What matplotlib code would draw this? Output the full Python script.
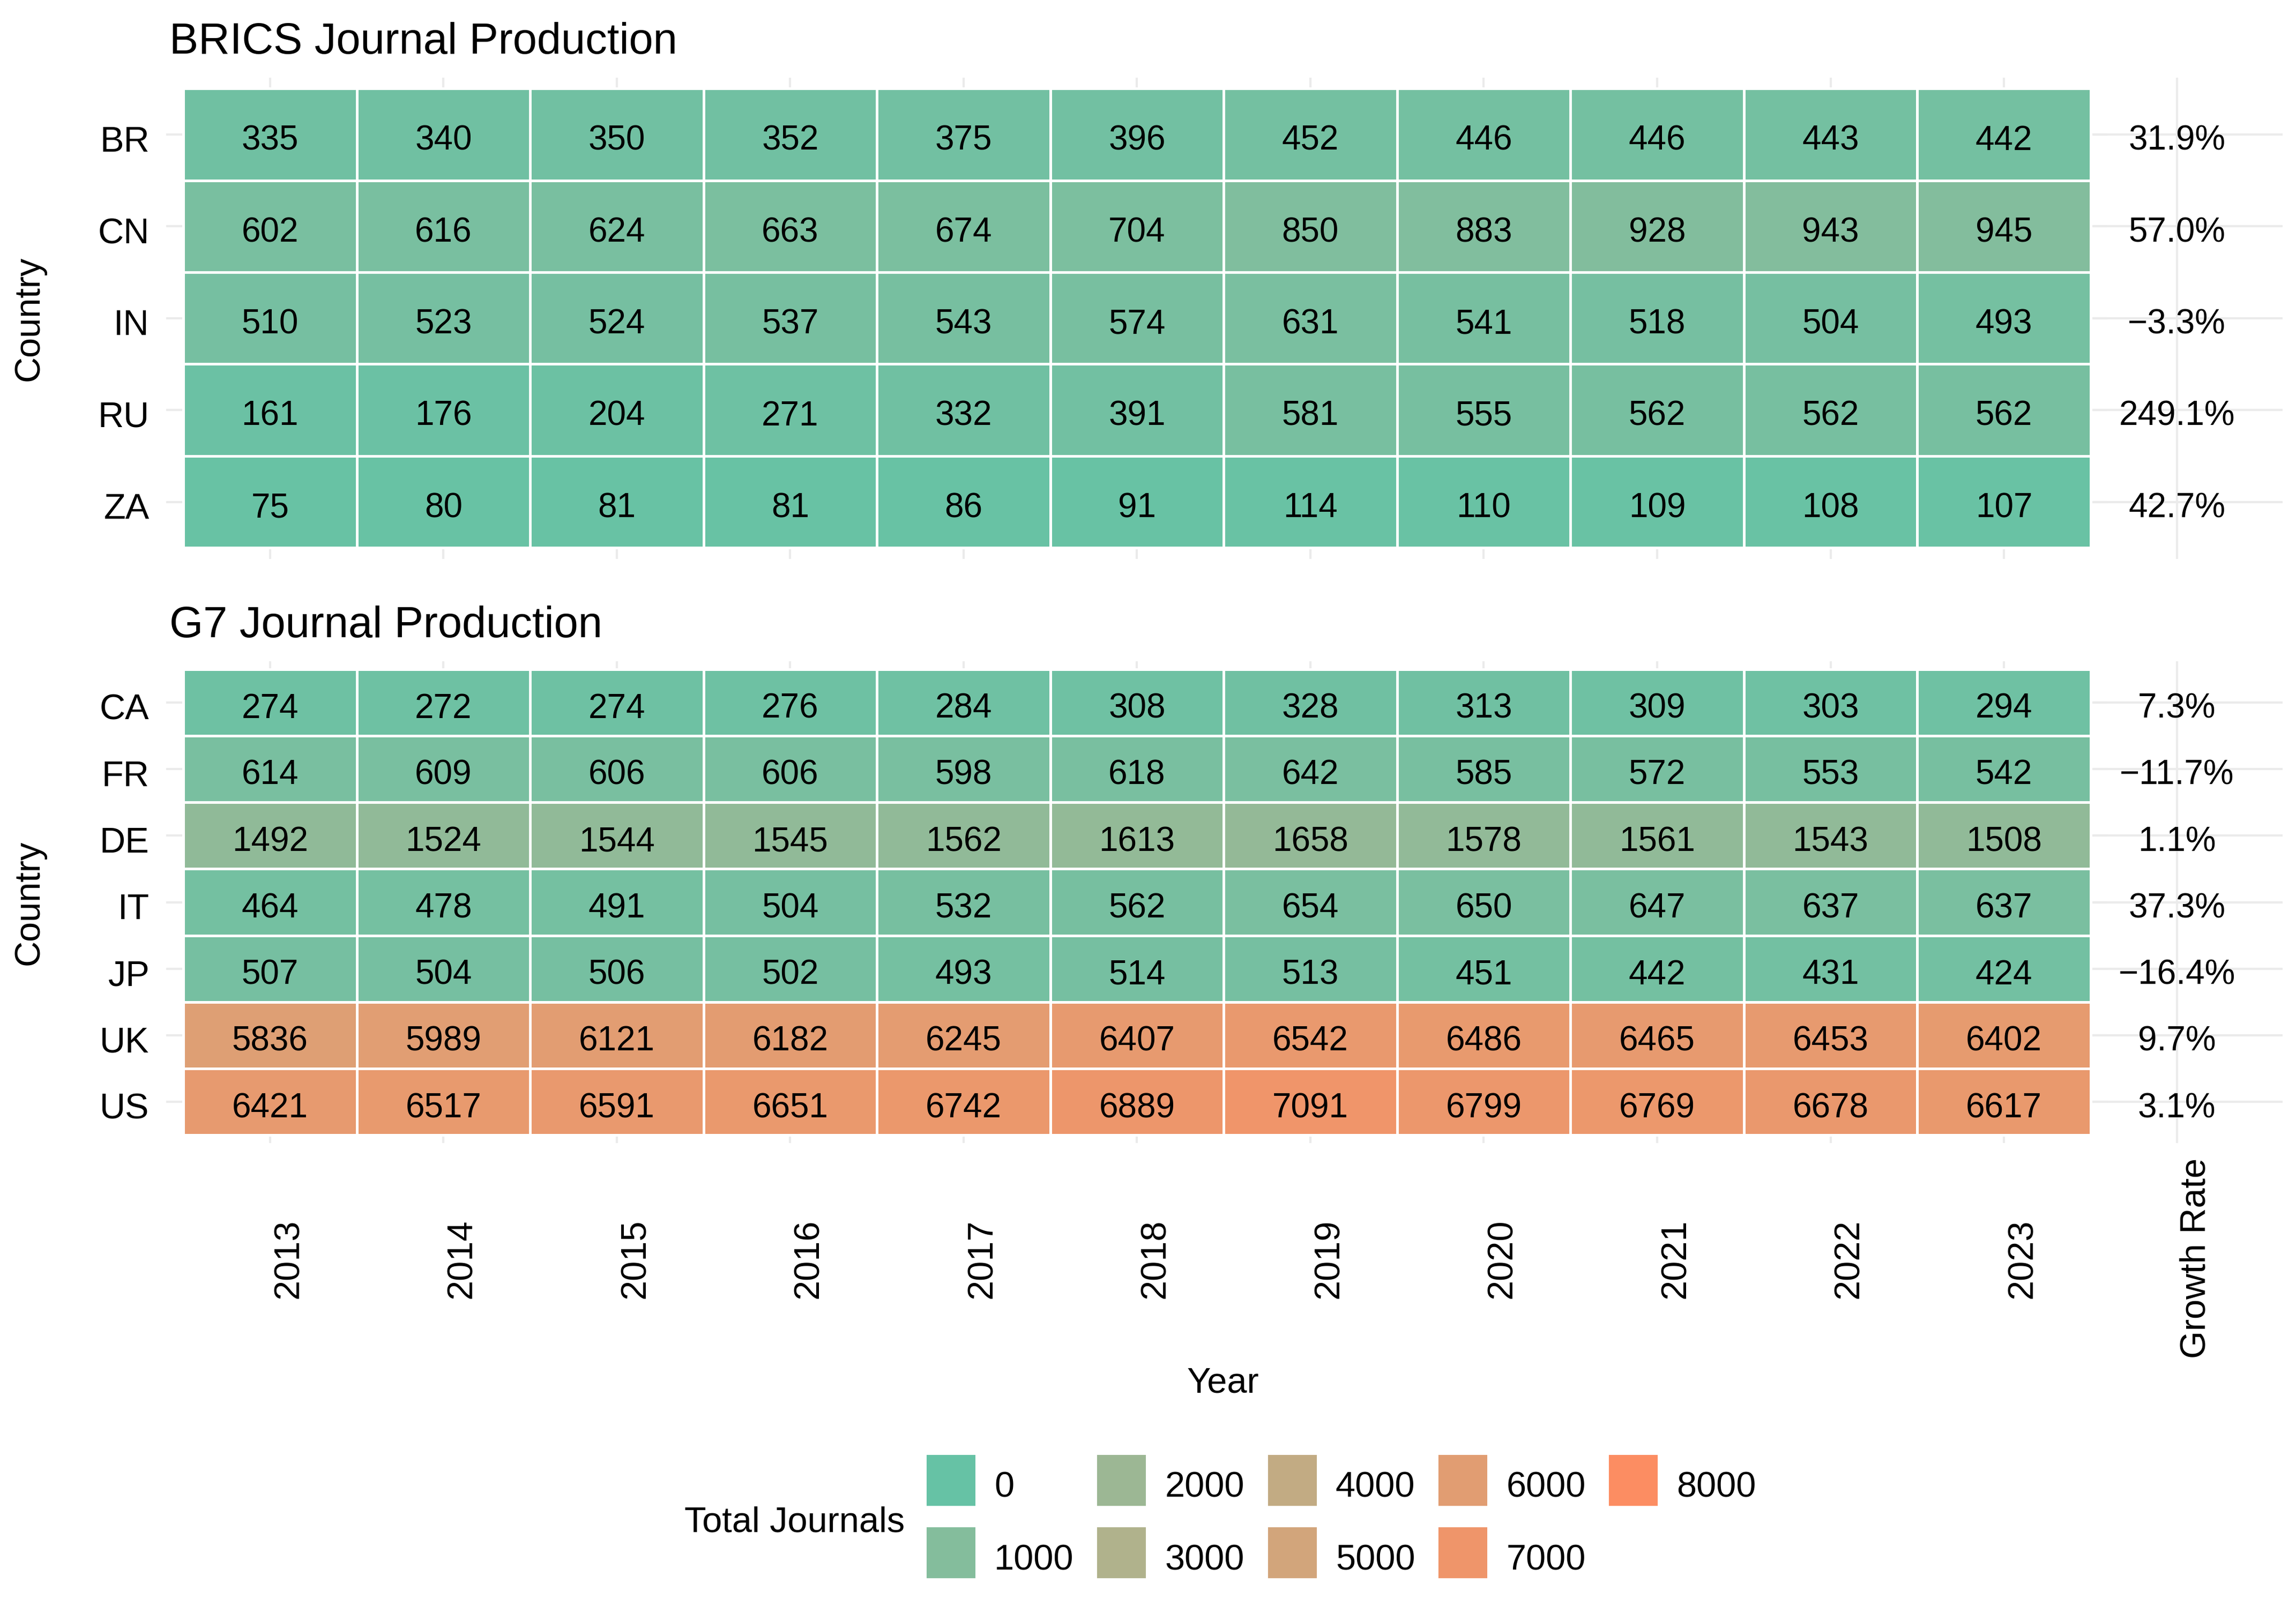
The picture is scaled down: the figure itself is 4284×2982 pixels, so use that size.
import numpy as np
import matplotlib
matplotlib.use("Agg")
import matplotlib.pyplot as plt
from matplotlib.colors import ListedColormap, Normalize
from matplotlib.patches import Rectangle
from matplotlib.transforms import blended_transform_factory, ScaledTranslation

# ------------------ data ------------------
years = [2013, 2014, 2015, 2016, 2017, 2018, 2019, 2020, 2021, 2022, 2023]

brics_countries = ["BR", "CN", "IN", "RU", "ZA"]
brics_values = [
    [335, 340, 350, 352, 375, 396, 452, 446, 446, 443, 442],
    [602, 616, 624, 663, 674, 704, 850, 883, 928, 943, 945],
    [510, 523, 524, 537, 543, 574, 631, 541, 518, 504, 493],
    [161, 176, 204, 271, 332, 391, 581, 555, 562, 562, 562],
    [75, 80, 81, 81, 86, 91, 114, 110, 109, 108, 107],
]
brics_growth = [31.9, 57.0, -3.3, 249.1, 42.7]

g7_countries = ["CA", "FR", "DE", "IT", "JP", "UK", "US"]
g7_values = [
    [274, 272, 274, 276, 284, 308, 328, 313, 309, 303, 294],
    [614, 609, 606, 606, 598, 618, 642, 585, 572, 553, 542],
    [1492, 1524, 1544, 1545, 1562, 1613, 1658, 1578, 1561, 1543, 1508],
    [464, 478, 491, 504, 532, 562, 654, 650, 647, 637, 637],
    [507, 504, 506, 502, 493, 514, 513, 451, 442, 431, 424],
    [5836, 5989, 6121, 6182, 6245, 6407, 6542, 6486, 6465, 6453, 6402],
    [6421, 6517, 6591, 6651, 6742, 6889, 7091, 6799, 6769, 6678, 6617],
]
g7_growth = [7.3, -11.7, 1.1, 37.3, -16.4, 9.7, 3.1]

legend_breaks = [0, 1000, 2000, 3000, 4000, 5000, 6000, 7000, 8000]
low_col, high_col = "#66C2A5", "#FC8D62"


# ------------------ Lab gradient (like ggplot scale_fill_gradient) ------------------
def hex_to_rgb(h):
    h = h.lstrip("#")
    return np.array([int(h[i:i + 2], 16) / 255 for i in (0, 2, 4)])

M = np.array([[0.4124, 0.3576, 0.1805],
              [0.2126, 0.7152, 0.0722],
              [0.0193, 0.1192, 0.9505]])
WP = np.array([0.95047, 1.0, 1.08883])
D = 6 / 29

def rgb_to_lab(c):
    lin = np.where(c <= 0.04045, c / 12.92, ((c + 0.055) / 1.055) ** 2.4)
    t = (M @ lin) / WP
    f = np.where(t > D ** 3, np.cbrt(t), t / (3 * D ** 2) + 4 / 29)
    return np.array([116 * f[1] - 16, 500 * (f[0] - f[1]), 200 * (f[1] - f[2])])

def lab_to_rgb(lab):
    fy = (lab[0] + 16) / 116
    f = np.array([fy + lab[1] / 500, fy, fy - lab[2] / 200])
    t = np.where(f > D, f ** 3, 3 * D ** 2 * (f - 4 / 29)) * WP
    lin = np.linalg.solve(M, t)
    c = np.where(lin <= 0.0031308, 12.92 * lin, 1.055 * np.clip(lin, 0, None) ** (1 / 2.4) - 0.055)
    return np.clip(c, 0, 1)

lab_lo, lab_hi = rgb_to_lab(hex_to_rgb(low_col)), rgb_to_lab(hex_to_rgb(high_col))
cmap = ListedColormap([lab_to_rgb(lab_lo + (lab_hi - lab_lo) * s) for s in np.linspace(0, 1, 256)])
norm = Normalize(0, 8000)

# ------------------ figure ------------------
plt.rcParams["font.family"] = ["Liberation Sans", "DejaVu Sans"]
W, H = 1560, 1086  # layout reference units
fig = plt.figure(figsize=(14.28, 9.943), dpi=300)

def rect(x0, y0, x1, y1):
    return [x0 / W, 1 - y1 / H, (x1 - x0) / W, (y1 - y0) / H]

GRID = "#EBEBEB"
# shifts that put the baseline so digits / capitals sit visually centred
down_cell = ScaledTranslation(0, -6.7 / 72, fig.dpi_scale_trans)
row_lab = ScaledTranslation(-7.6 / 72, -7.4 / 72, fig.dpi_scale_trans)


def heat_panel(box, gbox, countries, values, growth, title, title_y):
    ax = fig.add_axes(rect(*box))
    data = np.array(values)
    nr, nc = data.shape
    ax.pcolormesh(np.arange(nc + 1), np.arange(nr + 1), data, cmap=cmap, norm=norm,
                  edgecolors="white", linewidth=1.1)
    for r in range(nr):
        for c in range(nc):
            ax.text(c + 0.5, r + 0.5, str(data[r, c]), ha="center", va="baseline",
                    fontsize=15.3, color="black", transform=ax.transData + down_cell)
    ax.set_xlim(-0.098, nc + 0.098)
    ax.set_ylim(nr + 0.12, -0.12)
    ax.set_xticks(np.arange(nc) + 0.5)
    ax.set_xticklabels([])
    ax.set_yticks(np.arange(nr) + 0.5)
    ax.set_yticklabels([])
    ax.tick_params(length=0)
    ax.set_axisbelow(True)
    ax.grid(True, color=GRID, linewidth=1.0)
    for s in ax.spines.values():
        s.set_visible(False)

    # country labels
    ylab_tr = blended_transform_factory(ax.transAxes, ax.transData) + row_lab
    for r, name in enumerate(countries):
        ax.text(0, r + 0.5, name, ha="right", va="baseline", fontsize=16,
                transform=ylab_tr)

    # growth rate column
    gx = fig.add_axes(rect(*gbox))
    gx.set_facecolor("none")
    for r, g in enumerate(growth):
        gx.text(0, r + 0.5, f"{g:.1f}%".replace("-", "\u2212"), ha="center", va="baseline",
                fontsize=15.3, transform=gx.transData + down_cell)
    gx.set_xlim(-0.442, 0.558)
    gx.set_ylim(nr + 0.12, -0.12)
    gx.set_xticks([0])
    gx.set_xticklabels([])
    gx.set_yticks(np.arange(nr) + 0.5)
    gx.set_yticklabels([])
    gx.tick_params(length=0)
    gx.grid(True, color=GRID, linewidth=1.0)
    for s in gx.spines.values():
        s.set_visible(False)

    fig.text(115 / W, 1 - title_y / H, title, fontsize=19.5, va="baseline", ha="left")
    fig.text(20 / W, 1 - (box[1] + box[3]) / 2 / H, "Country", rotation=90,
             ha="center", va="center", fontsize=16)
    return ax, gx


ax_b, gx_b = heat_panel((113, 53, 1432, 380), (1422, 53, 1551, 380),
                        brics_countries, brics_values, brics_growth,
                        "BRICS Journal Production", 36.5)
ax_g, gx_g = heat_panel((113, 449.5, 1432, 777), (1422, 449.5, 1551, 777),
                        g7_countries, g7_values, g7_growth,
                        "G7 Journal Production", 433)

# rotated year labels under the G7 panel
lab_y = 1 - 855 / H
tr = blended_transform_factory(ax_g.transData, fig.transFigure)
for i, yr in enumerate(years):
    ax_g.text(i + 0.5 + 0.108, lab_y, str(yr), rotation=90, ha="center", va="center",
              fontsize=16, transform=tr)
trg = blended_transform_factory(gx_g.transData, fig.transFigure)
gx_g.text(0.1, lab_y, "Growth Rate", rotation=90, ha="center", va="center",
          fontsize=16, transform=trg)

fig.text(831 / W, 1 - 940 / H, "Year", ha="center", va="center", fontsize=16)

# ------------------ legend (two rows, filled column by column) ------------------
key_w, key_h = 33.2, 34.5
for k, v in enumerate(legend_breaks):
    col, row = divmod(k, 2)
    kx = 629.6 + 115.9 * col
    ky = 988.7 + 49.3 * row
    fig.patches.append(Rectangle((kx / W, 1 - (ky + key_h) / H), key_w / W, key_h / H,
                                 transform=fig.transFigure, facecolor=cmap(norm(v)),
                                 edgecolor="none"))
    fig.text((kx + 46) / W, 1 - (ky + 28.4) / H, str(v), ha="left", va="baseline",
             fontsize=16)
fig.text(465 / W, 1 - 1040.8 / H, "Total Journals", ha="left", va="baseline", fontsize=16)

fig.savefig("out.png", dpi=300, facecolor="white")
